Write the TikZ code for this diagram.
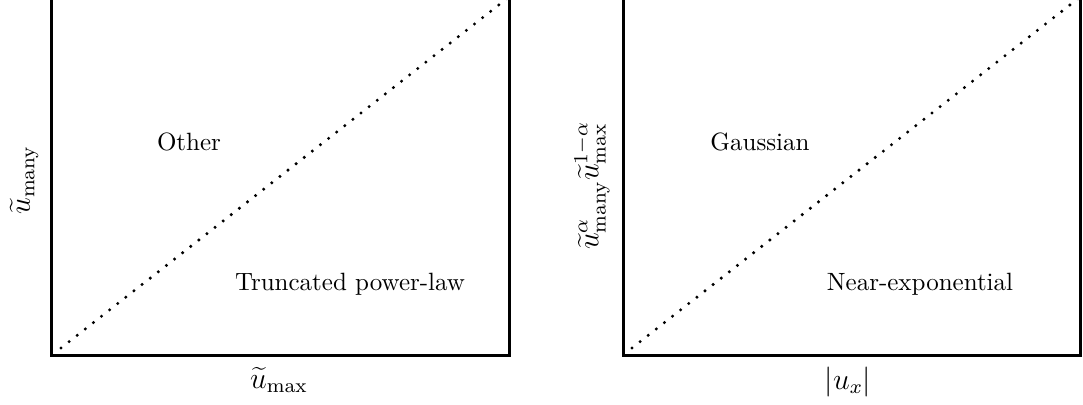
\documentclass[tikz,border=0pt]{standalone}
\begin{document}
\begin{tikzpicture}[x=0.4pt,y=-0.4pt,
  frame/.style={line width=1.2pt},
  diag/.style={line width=1.35pt, line cap=round, dash pattern=on 0pt off 4.12pt},
  region/.style={anchor=base, inner sep=0pt},
  axlabel/.style={anchor=base, inner sep=0pt, font=\large},
  ylab/.style={inner sep=0pt, rotate=90, font=\large}]
\useasboundingbox (0,0) rectangle (1083,405);
% left panel
\coordinate (LTL) at (51.5,-10);
\coordinate (LBL) at (51.5,355);
\coordinate (LBR) at (509.5,355);
\coordinate (LTR) at (509.5,-10);
\draw[frame] (LTL) -- (LBL) -- (LBR) -- (LTR);
\coordinate (LD0) at (61,348);
\coordinate (LD1) at (509,-3);
\draw[diag] (LD0) -- (LD1);
\node[region] (other) at (189,151) {Other};
\node[region] (trunc) at (350,290) {Truncated power-law};
\node[axlabel] (lx) at (279,388) {$\widetilde{u}_{\max}$};
\node[ylab] (ly) at (24,180) {$\widetilde{u}_{\mathrm{many}}$};
% right panel
\coordinate (RTL) at (623,-10);
\coordinate (RBL) at (623,355);
\coordinate (RBR) at (1080.5,355);
\coordinate (RTR) at (1080.5,-10);
\draw[frame] (RTL) -- (RBL) -- (RBR) -- (RTR);
\coordinate (RD0) at (632,348);
\coordinate (RD1) at (1080,-3);
\draw[diag] (RD0) -- (RD1);
\node[region] (gauss) at (760,151) {Gaussian};
\node[region] (nearexp) at (920,290) {Near-exponential};
\node[axlabel] (rx) at (848,389) {$|u_x|$};
\node[ylab] (ry) at (592,186) {$\widetilde{u}_{\mathrm{many}}^{\alpha}\widetilde{u}_{\max}^{1-\alpha}$};
\end{tikzpicture}
\end{document}
